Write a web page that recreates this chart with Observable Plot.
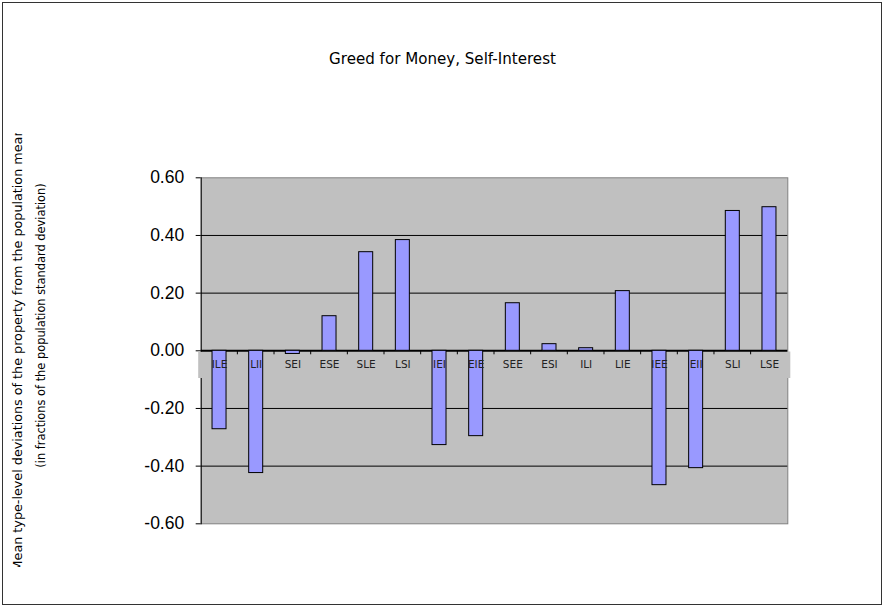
<!DOCTYPE html>
<html><head><meta charset="utf-8">
<script src="https://cdn.jsdelivr.net/npm/d3@7"></script>
<script src="https://cdn.jsdelivr.net/npm/@observablehq/plot@0.6"></script>
<style>
body{margin:0;background:#fff;}
#wrap{position:relative;width:884px;height:607px;overflow:hidden;background:#fff;}
#chart{position:absolute;left:0;top:0;}
#overlay{position:absolute;left:0;top:0;pointer-events:none;}
#border{position:absolute;left:2px;top:2px;width:878px;height:601px;border:1px solid #333;pointer-events:none;}
</style>
</head><body>
<div id="wrap"><div id="chart"></div><svg id="overlay" width="884" height="607"></svg><div id="border"></div></div>
<script>
const title = "Greed for Money, Self-Interest";
const yTitle1 = "Mean type-level deviations of the property from the population mean";
const yTitle2 = "(in fractions of the population standard deviation)";
const types = ["ILE","LII","SEI","ESE","SLE","LSI","IEI","EIE","SEE","ESI","ILI","LIE","IEE","EII","SLI","LSE"];
const values = [-0.272,-0.424,-0.011,0.120,0.342,0.384,-0.327,-0.296,0.165,0.023,0.009,0.207,-0.466,-0.407,0.485,0.498];
const yTicks = [-0.6,-0.4,-0.2,0,0.2,0.4,0.6];

const data = types.map((t,i)=>({type:t, value:values[i]}));

function labelBand(index, scales, values, dims) {
  const y0 = scales.y(0);
  const g = d3.create("svg:g");
  g.append("rect")
    .attr("x", dims.marginLeft - 2.5)
    .attr("width", dims.width - dims.marginLeft - dims.marginRight + 5.5)
    .attr("y", y0 + 1.2)
    .attr("height", 26.5)
    .attr("fill", "#c0c0c0");
  return g.node();
}
function zeroTicks(index, scales, values, dims) {
  const y0 = scales.y(0);
  const step = (dims.width - dims.marginLeft - dims.marginRight) / types.length;
  const g = d3.create("svg:g").attr("stroke","black");
  for (let i = 1; i < types.length; i++) {
    const x = dims.marginLeft + i*step;
    g.append("line").attr("x1",x).attr("x2",x).attr("y1",y0).attr("y2",y0+4);
  }
  return g.node();
}

const chart = Plot.plot({
  width: 884, height: 607,
  marginLeft: 200.7, marginRight: 96.7, marginTop: 177.3, marginBottom: 83.7,
  style: {background: "transparent", fontFamily: "DejaVu Sans", color: "black"},
  x: {domain: types, paddingInner: 0.618, paddingOuter: 0.309, round: false, axis: null},
  y: {domain: [-0.6, 0.6], axis: null},
  marks: [
    Plot.frame({fill: "#c0c0c0", stroke: "#808080"}),
    Plot.gridY(yTicks.filter(t => t !== 0 && Math.abs(t) < 0.59), {stroke: "black", strokeOpacity: 1}),
    Plot.frame({anchor: "left", stroke: "black"}),
    Plot.axisY({ticks: yTicks, tickFormat: d => d.toFixed(2), tickSize: 5, tickPadding: 12, label: null,
      fontSize: 17.5, fontFamily: "Liberation Sans", fill: "black", stroke: "black"}),
    labelBand,
    Plot.ruleY([0], {stroke: "black", strokeWidth: 2}),
    zeroTicks,
    Plot.barY(data, {x: "type", y: "value", fill: "#9999ff", stroke: "black", strokeWidth: 1}),
    Plot.text(types, {x: d => d, y: 0, dy: 17.3, lineAnchor: "bottom", fontSize: 10.5, fill: "#222", fontFamily: "DejaVu Sans"})
  ]
});
document.getElementById("chart").append(chart);

const ov = d3.select("#overlay");
ov.append("defs").append("clipPath").attr("id","yclip")
  .append("rect").attr("x",0).attr("y",133).attr("width",100).attr("height",434);
ov.append("text").attr("x",442.5).attr("y",64).attr("text-anchor","middle")
  .attr("font-family","DejaVu Sans").attr("font-size",15.1).attr("fill","black").text(title);
const yg = ov.append("g").attr("clip-path","url(#yclip)");
yg.append("text").attr("transform","translate(22,350) rotate(-90)").attr("text-anchor","middle")
  .attr("font-family","DejaVu Sans").attr("font-size",12.75).attr("fill","black").text(yTitle1);
yg.append("text").attr("transform","translate(44.5,325.5) rotate(-90)").attr("text-anchor","middle")
  .attr("font-family","DejaVu Sans").attr("font-size",11.4).attr("fill","black").text(yTitle2);
</script>
</body></html>
